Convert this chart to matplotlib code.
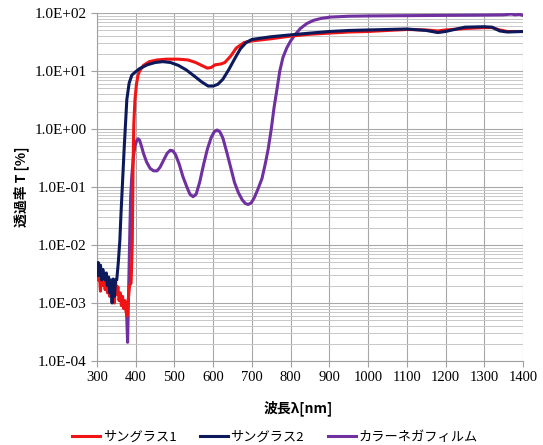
import numpy as np
import matplotlib
matplotlib.use('Agg')
import matplotlib.pyplot as plt
from matplotlib.ticker import FixedLocator, FuncFormatter, LogLocator, NullFormatter

plt.rcParams['font.family'] = ['Liberation Serif', 'DejaVu Serif']

# wavelength (nm) and transmittance (%)
red_wl = [300, 303, 306, 309, 312, 315, 318, 321, 324, 327, 330, 333, 336, 339, 342,
          345, 348, 351, 354, 357, 360, 363, 366, 369, 372, 375, 378, 381, 384, 388,
          391, 393, 395, 398, 402, 406, 410, 420, 435, 455, 480, 510, 535, 555, 570,
          585, 595, 605, 620, 630, 645, 660, 680, 700, 750, 800, 850, 900, 950, 1000,
          1050, 1100, 1150, 1180, 1200, 1250, 1300, 1320, 1340, 1360, 1400]
red_T = [4e-3, 2.5e-3, 3.2e-3, 1.6e-3, 3e-3, 2e-3, 2.6e-3, 1.7e-3, 2.4e-3, 1.5e-3,
         2.2e-3, 1.3e-3, 2e-3, 1.5e-3, 2.4e-3, 1.0e-3, 2.3e-3, 1.4e-3, 1.9e-3, 1.1e-3,
         1.5e-3, 9e-4, 1.3e-3, 8e-4, 1.1e-3, 7e-4, 6e-4, 1.2e-3, 2e-3, 2.2e-3,
         0.01, 0.2, 1.2, 3.2, 6.0, 8.5, 10, 12.5, 14.5, 15.5, 16, 16, 15.5, 14, 12.5,
         11.2, 11.5, 12.8, 13.2, 14, 18, 25, 31, 33, 36, 40, 43, 45, 47, 48,
         50, 52, 51, 49, 51, 54, 56, 56, 51, 48, 48]

navy_wl = [300, 303, 306, 309, 312, 315, 318, 321, 324, 327, 330, 333, 336, 339, 342,
           345, 348, 351, 355, 359, 362, 365, 370, 377, 383, 390, 398, 410, 430, 450,
           470, 490, 510, 530, 550, 570, 587, 600, 612, 625, 640, 655, 670, 685, 700,
           750, 800, 850, 900, 950, 1000, 1050, 1100, 1150, 1180, 1200, 1250, 1300,
           1320, 1340, 1360, 1400]
navy_T = [3e-3, 5e-3, 3e-3, 4.5e-3, 2.5e-3, 3.8e-3, 3e-3, 2.5e-3, 3.3e-3, 2e-3,
          2.8e-3, 1.5e-3, 2.5e-3, 1.0e-3, 2.6e-3, 1.3e-3, 2.5e-3, 2.5e-3, 5e-3, 0.012,
          0.035, 0.09, 0.44, 3.2, 6.2, 8.5, 9.5, 11, 12.8, 14,
          14.5, 14, 12.5, 10.5, 8.3, 6.5, 5.5, 5.5, 5.9, 7.2, 10.5, 16, 24, 31, 35,
          39, 42, 45, 48, 50, 51, 52, 53, 50, 46, 48, 57, 58,
          57, 49, 47, 48]

purple_wl = [376, 379, 381, 383, 385, 387, 390, 394, 398, 402, 406, 410, 415, 420,
             428, 437, 446, 455, 463, 472, 481, 489, 496, 503, 512, 522, 532, 540,
             548, 556, 565, 575, 585, 595, 603, 610, 617, 625, 635, 645, 655, 665,
             675, 683, 690, 698, 706, 715, 726, 735, 742, 750, 757, 765, 772, 780,
             790, 800, 811, 825, 842, 860, 880, 902, 950, 1000, 1100, 1200, 1300,
             1350, 1370, 1380, 1390, 1400]
purple_T = [8e-4, 2.1e-4, 1e-3, 4.5e-3, 0.02, 0.07, 0.16, 0.33, 0.5, 0.62, 0.68,
            0.64, 0.5, 0.38, 0.27, 0.21, 0.19, 0.19, 0.22, 0.29, 0.38, 0.43, 0.42,
            0.36, 0.25, 0.15, 0.1, 0.075, 0.068, 0.075, 0.12, 0.24, 0.45, 0.72, 0.9,
            0.96, 0.9, 0.7, 0.4, 0.22, 0.12, 0.08, 0.06, 0.052, 0.05, 0.053, 0.065,
            0.09, 0.14, 0.26, 0.45, 1.0, 2.3, 5, 10, 17, 25, 33, 42, 54, 66, 75, 81,
            85, 88, 89, 90, 91, 92, 93, 96, 93, 95, 91]

labels = ['サングラス1', 'サングラス2', 'カラーネガフィルム']
colors = ['#f01414', '#0c1a5c', '#7030a0']

jp = ['Noto Sans CJK JP', 'DejaVu Sans']

fig = plt.figure(figsize=(5.43, 4.45), dpi=100)
ax = fig.add_axes([97/543, 1-361/445, (523-97)/543, (361-13)/445])

ax.plot(red_wl, red_T, color=colors[0], lw=2.2, label=labels[0], zorder=3)
ax.plot(navy_wl, navy_T, color=colors[1], lw=2.2, label=labels[1], zorder=4)
ax.plot(purple_wl, purple_T, color=colors[2], lw=2.2, label=labels[2], zorder=2)

ax.set_yscale('log')
ax.set_xlim(300, 1400)
ax.set_ylim(1e-4, 1e2)
ax.xaxis.set_major_locator(FixedLocator(np.arange(300, 1401, 100)))
ax.yaxis.set_major_locator(FixedLocator([1e-4, 1e-3, 1e-2, 1e-1, 1, 10, 100]))
ax.yaxis.set_minor_locator(LogLocator(base=10, subs=np.arange(2, 10)))
ax.yaxis.set_minor_formatter(NullFormatter())
ax.yaxis.set_major_formatter(FuncFormatter(lambda v, p: '%.1E' % v))

ax.grid(True, which='major', axis='both', color='#a8a8a8', lw=0.8)
ax.grid(True, which='minor', axis='y', color='#c8c8c8', lw=0.7)
ax.set_axisbelow(True)
for s in ['top', 'right']:
    ax.spines[s].set_visible(False)
for s in ['left', 'bottom']:
    ax.spines[s].set_color('#a0a0a0')
ax.tick_params(axis='both', which='major', direction='out', length=4, color='#a0a0a0')
ax.tick_params(axis='y', which='major', labelsize=11)
ax.tick_params(axis='x', which='major', labelsize=10.5)
ax.tick_params(axis='y', which='minor', length=0)

ax.set_ylabel('透過率 T [%]', family=jp, fontsize=10, fontweight='bold', labelpad=4)
fig.text(298/543, 1-408/445, '波長λ[nm]', family=jp, fontsize=10, fontweight='bold',
         ha='center', va='center')

fig.legend(loc='center', bbox_to_anchor=(275/543, 1-437/445), ncol=3, frameon=False,
           prop={'family': jp, 'size': 9.5}, handlelength=2.1, columnspacing=1.8,
           handletextpad=0.2)

fig.savefig('out.png', dpi=100)
